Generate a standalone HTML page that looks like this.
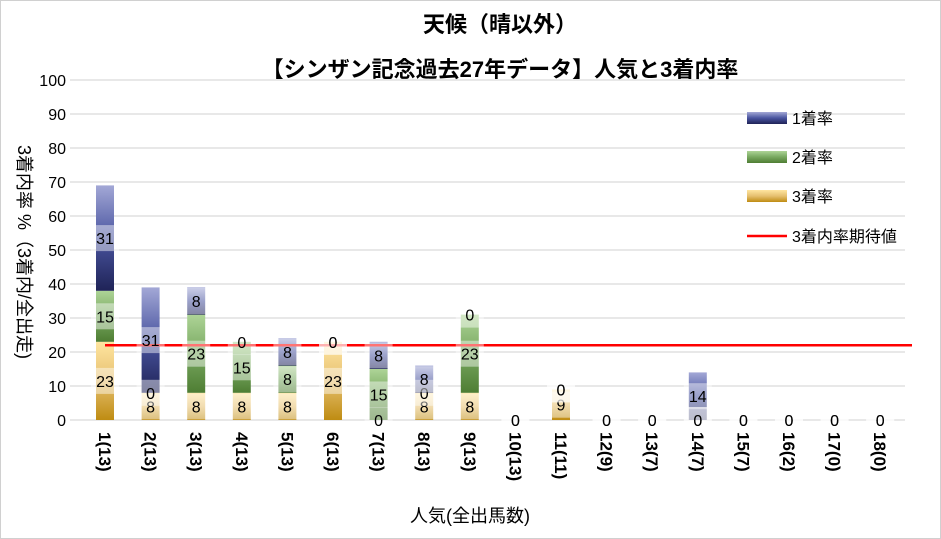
<!DOCTYPE html>
<html><head><meta charset="utf-8">
<style>
body{margin:0;background:#fff;}
svg{display:block;font-family:"Liberation Sans","Noto Sans CJK JP",sans-serif;}
</style></head>
<body>
<svg id="chart" width="941" height="539" viewBox="0 0 941 539" xmlns="http://www.w3.org/2000/svg">
<defs>
<linearGradient id="g1" x1="0" y1="1" x2="0" y2="0"><stop offset="0" stop-color="#1f2357"/><stop offset="0.5" stop-color="#4a55a0"/><stop offset="1" stop-color="#a3a8d6"/></linearGradient>
<linearGradient id="g2" x1="0" y1="1" x2="0" y2="0"><stop offset="0" stop-color="#4e7d33"/><stop offset="0.5" stop-color="#78a860"/><stop offset="1" stop-color="#aed497"/></linearGradient>
<linearGradient id="g3" x1="0" y1="1" x2="0" y2="0"><stop offset="0" stop-color="#bf8c12"/><stop offset="0.5" stop-color="#e6c070"/><stop offset="1" stop-color="#ffe5a0"/></linearGradient>
</defs>
<rect x="0.5" y="0.5" width="940" height="538" fill="#fff" stroke="#d0d0d0"/>
<text x="500" y="32" text-anchor="middle" font-size="22" font-weight="bold">天候（晴以外）</text>
<text x="500" y="77" text-anchor="middle" font-size="22" font-weight="bold">【シンザン記念過去27年データ】人気と3着内率</text>
<g id="grid"></g>
<g id="bars"></g>
<g id="labels"></g>
<g id="xlabels"></g>
<text transform="translate(18,252) rotate(90)" text-anchor="middle" font-size="18">3着内率 %（3着内/全出走)</text>
<text x="470" y="522" text-anchor="middle" font-size="18">人気(全出馬数)</text>
<g>
<rect x="747" y="112" width="40" height="12" fill="url(#g1)"/>
<text x="792" y="124" font-size="16">1着率</text>
<rect x="747" y="151" width="40" height="12" fill="url(#g2)"/>
<text x="792" y="163" font-size="16">2着率</text>
<rect x="747" y="190" width="40" height="12" fill="url(#g3)"/>
<text x="792" y="202" font-size="16">3着率</text>
<line x1="747" y1="236" x2="787" y2="236" stroke="#ff0000" stroke-width="2.5"/>
<text x="792" y="242" font-size="16">3着内率期待値</text>
</g>
</svg>
<script>
const categories=["1(13)","2(13)","3(13)","4(13)","5(13)","6(13)","7(13)","8(13)","9(13)","10(13)","11(11)","12(9)","13(7)","14(7)","15(7)","16(2)","17(0)","18(0)"];
const win=[31,31,8,0,8,0,8,8,0,0,0,0,0,14,0,0,0,0];
const second=[15,0,23,15,8,0,15,0,23,0,0,0,0,0,0,0,0,0];
const third=[23,8,8,8,8,23,0,8,8,0,9,0,0,0,0,0,0,0];
const expected=22;
const yTicks=[0,10,20,30,40,50,60,70,80,90,100];

const NS="http://www.w3.org/2000/svg";
const y0=420,yTop=80,xLeft=70,xRight=905;
const yS=v=>y0-(v/100)*(y0-yTop);
const xS=i=>105+i*45.6;
const bw=18;
function mk(tag,attrs,parent){const e=document.createElementNS(NS,tag);for(const k in attrs)e.setAttribute(k,attrs[k]);parent.appendChild(e);return e;}
const grid=document.getElementById('grid'),bars=document.getElementById('bars'),labels=document.getElementById('labels'),xl=document.getElementById('xlabels');
yTicks.forEach(t=>{
  const l=mk('line',{x1:xLeft,x2:xRight,y1:yS(t),y2:yS(t),stroke:'#d9d9d9','stroke-width':1.3},grid);
  
  
  const tx=mk('text',{x:66,y:yS(t)+6,'text-anchor':'end','font-size':16},grid);
  tx.textContent=t;
  
  
});
const series=[[third,'g3','third'],[second,'g2','second'],[win,'g1','win']];
categories.forEach((c,i)=>{
  let base=0;const cx=xS(i);
  series.forEach(([arr,g,nm])=>{
    const v=arr[i];
    if(v>0){
      const r=mk('rect',{x:cx-bw/2,y:yS(base+v),width:bw,height:yS(base)-yS(base+v),fill:'url(#'+g+')'},bars);
      
      
    }
    const ly=(yS(base)+yS(base+v))/2;
    const bg=mk('rect',{x:cx-14,y:ly-13,width:28,height:26,fill:'#ffffff','fill-opacity':0.45},labels);
    
    
    const t=mk('text',{x:cx,y:ly+6,'text-anchor':'middle','font-size':16},labels);
    t.textContent=v;
    
    
    base+=v;
  });
  const xt=mk('text',{transform:'translate('+(cx-6)+',432) rotate(90)','font-size':17,'font-weight':'bold'},xl);
  xt.textContent=c;
  
  
});
const el=mk('line',{x1:xS(0),x2:912,y1:yS(expected),y2:yS(expected),stroke:'#ff0000','stroke-width':2.5},bars);


</script>
</body></html>
